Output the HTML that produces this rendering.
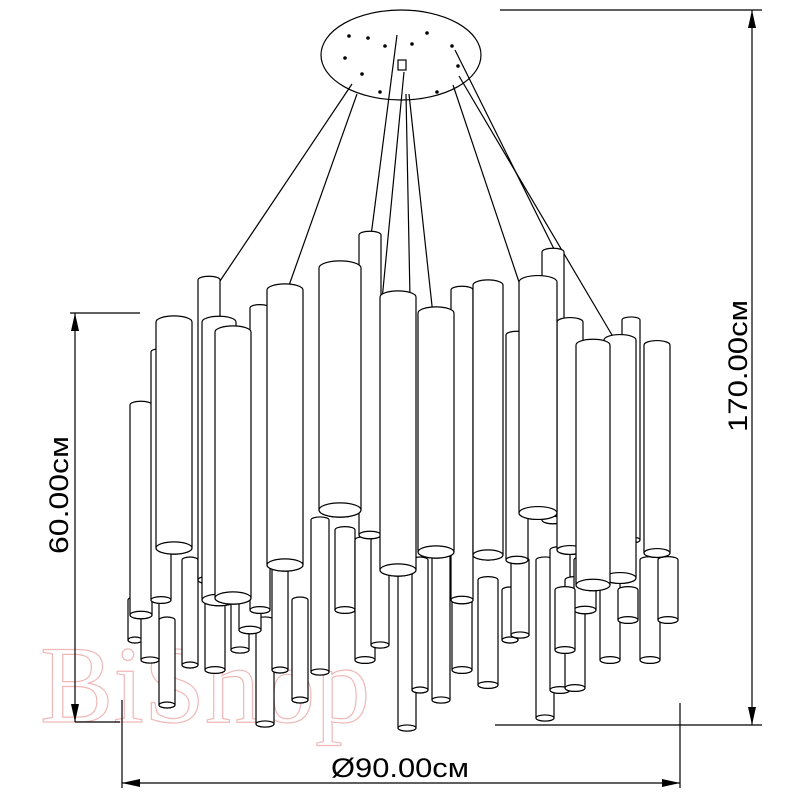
<!DOCTYPE html>
<html><head><meta charset="utf-8"><style>
html,body{margin:0;padding:0;background:#fff;width:800px;height:800px;overflow:hidden}
</style></head><body>
<svg id="s" width="800" height="800" viewBox="0 0 800 800" xmlns="http://www.w3.org/2000/svg" font-family="Liberation Sans, sans-serif">
<text x="40" y="722" font-size="110" fill="none" stroke="#f0b8b8" stroke-width="1.2" font-family="Liberation Serif, serif">BiShop</text>
<g stroke="#000" stroke-width="1.2" fill="none">
<ellipse cx="401" cy="55" rx="80" ry="45" fill="#fff"/>
<line x1="352" y1="84" x2="220" y2="281"/>
<line x1="357" y1="94" x2="287" y2="291"/>
<line x1="397" y1="35" x2="371" y2="236"/>
<line x1="404" y1="72" x2="382" y2="300"/>
<line x1="406" y1="94" x2="410" y2="298"/>
<line x1="409" y1="94" x2="433" y2="315"/>
<line x1="453" y1="85" x2="520" y2="285"/>
<line x1="459" y1="76" x2="612" y2="335"/>
<line x1="455" y1="50" x2="556" y2="253"/>
<rect x="398" y="60" width="8" height="10"/>
</g>
<g fill="#000">
<circle cx="349" cy="36" r="1.8"/><circle cx="368" cy="38" r="1.8"/><circle cx="385" cy="46" r="1.8"/>
<circle cx="427" cy="33" r="1.8"/><circle cx="452" cy="46" r="1.8"/><circle cx="345" cy="58" r="1.8"/>
<circle cx="362" cy="74" r="1.8"/><circle cx="380" cy="92" r="1.8"/><circle cx="437" cy="92" r="1.8"/>
<circle cx="458" cy="66" r="1.8"/><circle cx="412" cy="44" r="1.8"/>
</g>
<g id="tubes" stroke="#000" stroke-width="1.2" fill="#fff"></g>
<g stroke="#000" stroke-width="1.2" fill="none">
<line x1="500" y1="10" x2="762" y2="10"/>
<line x1="752" y1="10" x2="752" y2="725"/>
<line x1="495" y1="725" x2="762" y2="725"/>
<line x1="70" y1="313" x2="140" y2="313"/>
<line x1="75" y1="313" x2="75" y2="722"/>
<line x1="75" y1="722" x2="120" y2="722"/>
<line x1="122" y1="700" x2="122" y2="788"/>
<line x1="680" y1="703" x2="680" y2="788"/>
<line x1="122" y1="783" x2="680" y2="783"/>
</g>
<g fill="#000">
<polygon points="752,10 748,28 756,28"/>
<polygon points="752,725 748,707 756,707"/>
<polygon points="75,313 71,331 79,331"/>
<polygon points="75,722 71,704 79,704"/>
<polygon points="122,783 140,779 140,787"/>
<polygon points="680,783 662,779 662,787"/>
</g>
<text x="400" y="777" font-size="27" text-anchor="middle" textLength="138" lengthAdjust="spacingAndGlyphs">Ø90.00см</text>
<text transform="translate(68,495) rotate(-90)" font-size="27" text-anchor="middle" textLength="118" lengthAdjust="spacingAndGlyphs">60.00см</text>
<text transform="translate(747,366) rotate(-90)" font-size="27" text-anchor="middle" textLength="132" lengthAdjust="spacingAndGlyphs">170.00см</text>
</svg>
<script>
var back=[[407,18,560,728],[441,18,530,700],[545,18,560,718],[265,18,620,724],[300,16,600,700],[167,16,620,705],[135,14,600,640],[150,18,590,660],[190,16,560,665],[215,20,580,670],[240,18,560,650],[280,16,570,670],[320,18,520,672],[345,20,530,610],[365,20,540,660],[380,18,540,645],[420,16,560,690],[462,20,570,670],[488,20,580,685],[510,16,590,640],[520,18,560,635],[560,20,550,690],[575,20,580,688],[585,22,560,610],[610,20,570,660],[628,20,590,620],[650,20,560,660],[668,20,560,620],[250,22,600,630],[565,20,590,650]];
var front=[[141,22,405,615],[161,20,352,600],[174,36,322,548],[553,22,252,520],[370,22,235,535],[209,22,280,580],[219,34,322,600],[260,20,308,610],[233,36,332,598],[462,22,290,600],[517,22,335,560],[631,18,320,540],[657,26,345,553],[285,36,290,565],[340,42,268,510],[398,36,297,570],[436,36,313,552],[488,30,285,555],[570,26,322,550],[538,38,282,513],[620,32,340,578],[593,34,345,585]];
var g=document.getElementById('tubes'),ns='http://www.w3.org/2000/svg';
function tube(t){var c=t[0],w=t[1],top=t[2],b=t[3],r=w/2,ry=Math.max(3,w*0.17);
var p=document.createElementNS(ns,'path');
p.setAttribute('d','M'+(c-r)+','+b+' L'+(c-r)+','+top+' A'+r+','+ry+' 0 0 1 '+(c+r)+','+top+' L'+(c+r)+','+b+' A'+r+','+ry+' 0 0 1 '+(c-r)+','+b+' Z');
g.appendChild(p);
var e=document.createElementNS(ns,'ellipse');e.setAttribute('cx',c);e.setAttribute('cy',b);e.setAttribute('rx',r);e.setAttribute('ry',ry);g.appendChild(e);}
back.forEach(tube);front.forEach(tube);
</script>
</body></html>
